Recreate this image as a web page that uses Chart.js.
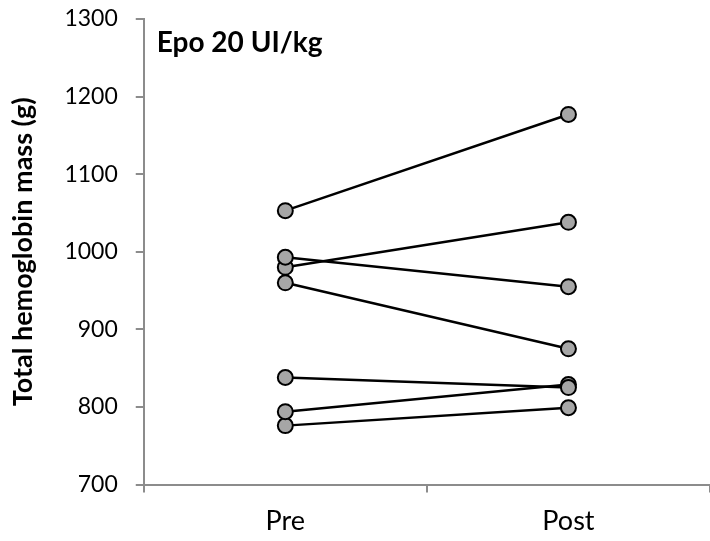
<!DOCTYPE html>
<html lang="en">
<head>
    <meta charset="UTF-8">
    <title>Epo 20 UI/kg</title>
    <script src="https://cdn.jsdelivr.net/npm/chart.js"></script>
    <style>
        html, body { margin: 0; padding: 0; background: #fff; }
        .chart-container { width: 710px; height: 541px; }
    </style>
</head>
<body>
    <div class="chart-container">
        <canvas id="hbmassChart"></canvas>
    </div>
    <script>
        const timepoints = ['Pre', 'Post'];
        const preValues = [1053, 993, 980, 960, 838, 794, 776];
        const postValues = [1177, 955, 1038, 875, 825, 829, 799];
        const yTicks = [700, 800, 900, 1000, 1100, 1200, 1300];

        const fontFamily = 'Lato, "Open Sans", sans-serif';
        const axisGrey = '#8c8c8c';

        const datasets = preValues.map((pre, i) => ({
            label: 'Subject ' + (i + 1),
            data: [pre, postValues[i]],
            borderColor: '#000',
            borderWidth: 2.5,
            pointRadius: 7.5,
            pointBackgroundColor: '#a6a6a6',
            pointBorderColor: '#000',
            pointBorderWidth: 2,
            tension: 0
        }));

        const panelTitle = {
            id: 'panelTitle',
            afterDraw(chart) {
                const ctx = chart.ctx;
                ctx.save();
                ctx.font = 'bold 28px ' + fontFamily;
                ctx.fillStyle = '#000';
                ctx.textBaseline = 'alphabetic';
                ctx.fillText('Epo 20 UI/kg', chart.chartArea.left + 13, 52);
                ctx.restore();
            }
        };

        new Chart(document.getElementById('hbmassChart'), {
            type: 'line',
            data: { labels: timepoints, datasets: datasets },
            options: {
                responsive: true,
                maintainAspectRatio: false,
                animation: false,
                layout: { autoPadding: false, padding: { top: 0, right: 0, left: 7, bottom: -8 } },
                plugins: { legend: { display: false }, tooltip: { enabled: false } },
                scales: {
                    x: {
                        offset: true,
                        grid: {
                            offset: true,
                            drawOnChartArea: false,
                            tickLength: 8,
                            color: axisGrey,
                            lineWidth: 2
                        },
                        border: { color: axisGrey, width: 2 },
                        ticks: { color: '#000', font: { family: fontFamily, size: 27 }, padding: 12 }
                    },
                    y: {
                        min: yTicks[0],
                        max: yTicks[yTicks.length - 1],
                        afterBuildTicks: axis => { axis.ticks = yTicks.map(v => ({ value: v })); },
                        // keep the top of the plot close to the canvas edge, as in the original
                        afterFit: axis => { axis.paddingTop = 19; axis.paddingBottom = 19; },
                        grid: {
                            drawOnChartArea: false,
                            tickLength: 8,
                            color: axisGrey,
                            lineWidth: 2
                        },
                        border: { color: axisGrey, width: 2 },
                        ticks: {
                            color: '#000',
                            font: { family: fontFamily, size: 23 },
                            padding: 18,
                            callback: v => String(v)
                        },
                        title: {
                            display: true,
                            text: 'Total hemoglobin mass (g)',
                            color: '#000',
                            font: { family: fontFamily, size: 27, weight: 'bold' },
                            padding: { top: 0, bottom: 7 }
                        }
                    }
                }
            },
            plugins: [panelTitle]
        });
    </script>
</body>
</html>
